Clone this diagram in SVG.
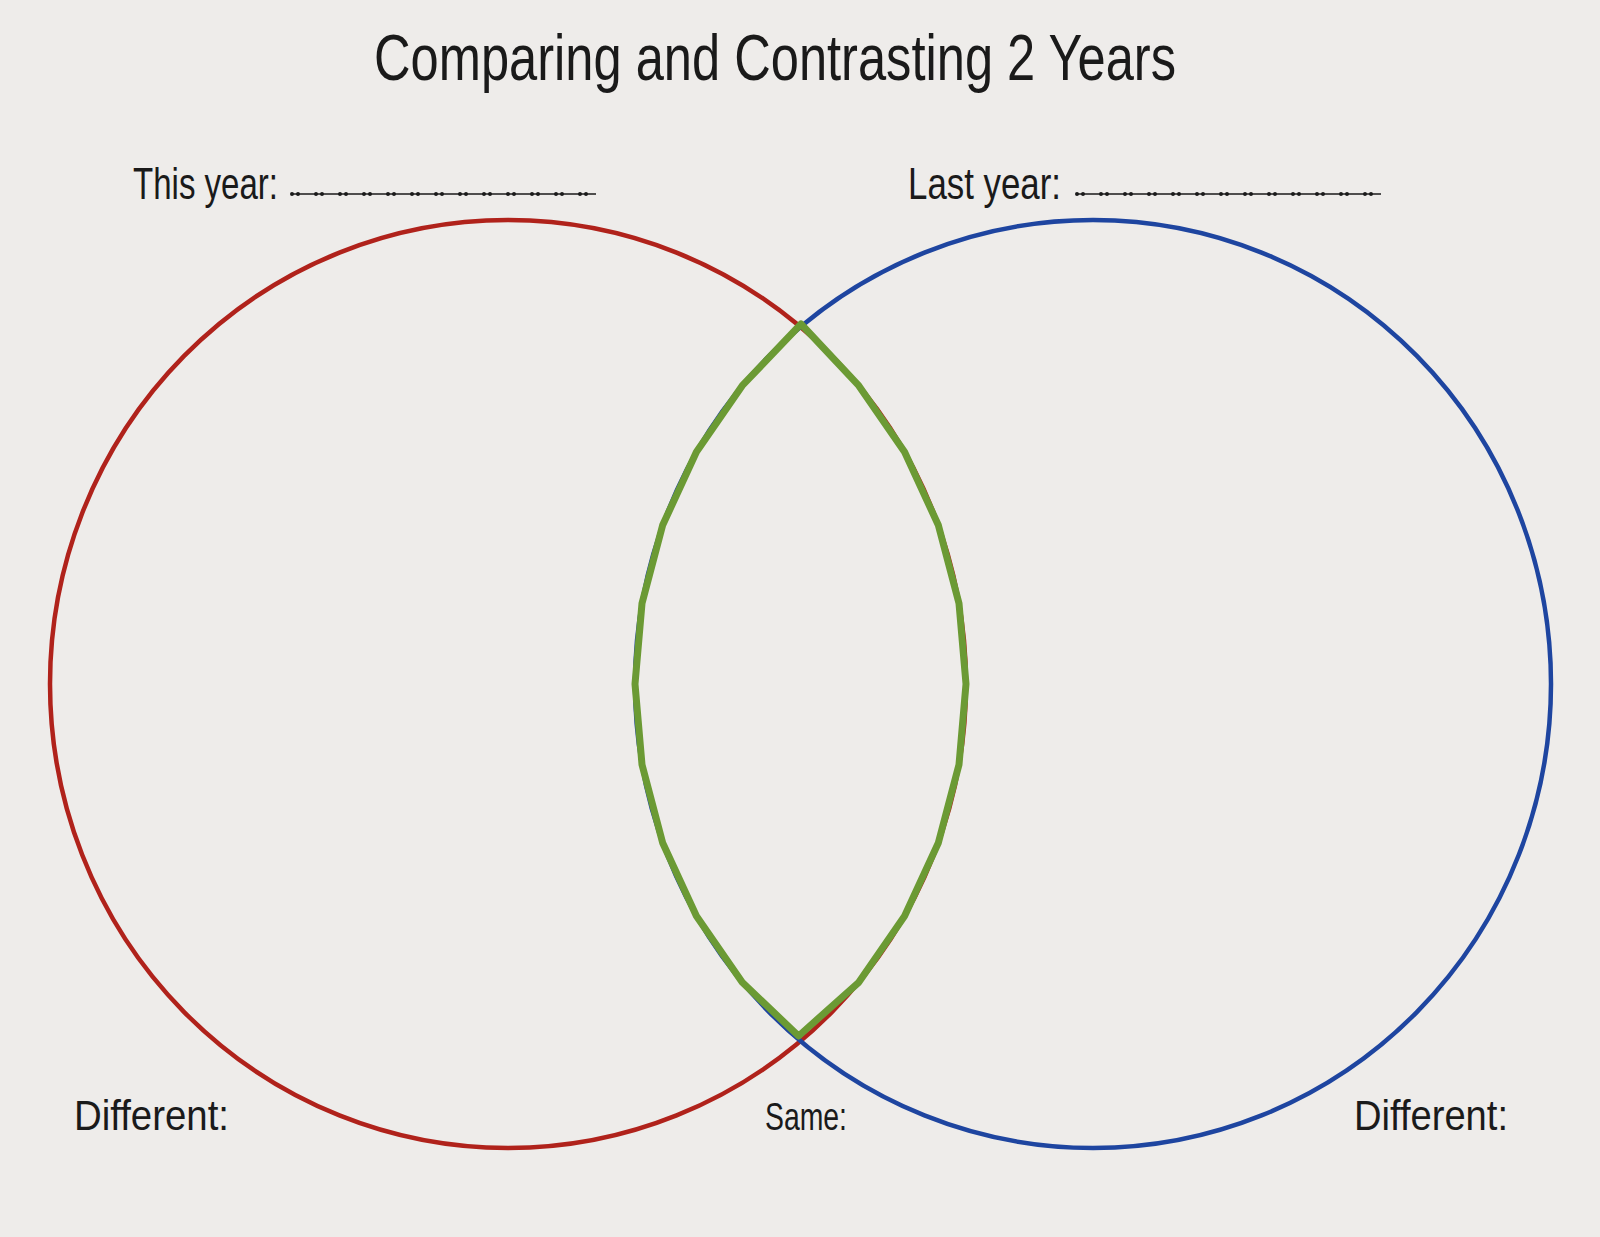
<svg xmlns="http://www.w3.org/2000/svg" width="1600" height="1237" viewBox="0 0 1600 1237">
  <style>
    .t { font-family: "Liberation Sans", "DejaVu Sans", sans-serif; fill: #1a1a1a; }
    .rule { stroke: #1a1a1a; stroke-width: 1.5; }
    .dots { stroke: #1a1a1a; stroke-width: 4; stroke-linecap: round; stroke-dasharray: 0 6 0 18; }
  </style>
  <rect x="0" y="0" width="1600" height="1237" fill="#EEECEA"/>

  <g id="title">
    <text class="t" x="374" y="80" font-size="64" textLength="802" lengthAdjust="spacingAndGlyphs">Comparing and Contrasting 2 Years</text>
  </g>

  <g id="this-year-label">
    <text class="t" x="133" y="199" font-size="44" textLength="145" lengthAdjust="spacingAndGlyphs">This year:</text>
    <line class="rule" x1="292" y1="194" x2="596" y2="194"/>
    <line class="dots" x1="292" y1="194" x2="596" y2="194"/>
  </g>

  <g id="last-year-label">
    <text class="t" x="908" y="199" font-size="44" textLength="153" lengthAdjust="spacingAndGlyphs">Last year:</text>
    <line class="rule" x1="1077" y1="194" x2="1381" y2="194"/>
    <line class="dots" x1="1077" y1="194" x2="1381" y2="194"/>
  </g>

  <g id="this-year-circle">
    <ellipse cx="508" cy="684" rx="458" ry="464" fill="none" stroke="#B0221B" stroke-width="4.5"/>
  </g>

  <g id="last-year-circle">
    <ellipse cx="1093" cy="684" rx="458" ry="464" fill="none" stroke="#1E45A0" stroke-width="4.5"/>
  </g>

  <g id="same-region">
    <polygon fill="none" stroke="#6B9A34" stroke-width="7" stroke-linejoin="round"
      points="801,324 858.8,385.7 904.6,452 938.4,525.3 959,603.4 966,684 959,764.6 938.4,842.7 904.6,916 858.8,982.3 798.6,1036 742.2,982.3 696.4,916 662.6,842.7 642,764.6 635,684 642,603.4 662.6,525.3 696.4,452 742.2,385.7"/>
  </g>

  <g id="different-left">
    <text class="t" x="74" y="1130" font-size="42" textLength="155" lengthAdjust="spacingAndGlyphs">Different:</text>
  </g>
  <g id="same-label">
    <text class="t" x="765" y="1130" font-size="38" textLength="82" lengthAdjust="spacingAndGlyphs">Same:</text>
  </g>
  <g id="different-right">
    <text class="t" x="1354" y="1130" font-size="42" textLength="154" lengthAdjust="spacingAndGlyphs">Different:</text>
  </g>

  <g id="connectors"></g>
</svg>
